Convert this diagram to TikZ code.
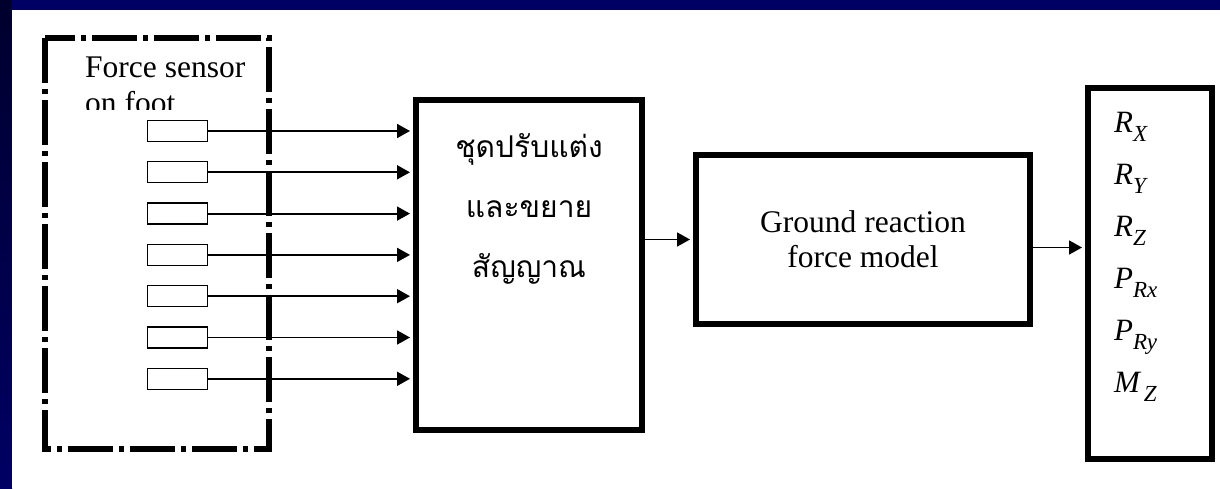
\documentclass[tikz,border=0pt]{standalone}
\usepackage{fontspec}
\setmainfont{Liberation Serif}
\newfontfamily\thaifont[Script=Thai]{Loma}
\usetikzlibrary{positioning,arrows.meta}
\definecolor{slidenavy}{RGB}{0,0,100}
\definecolor{slidedark}{RGB}{0,0,45}
\newcommand{\outsym}[2]{{\itshape #1\raisebox{-9pt}{\fontsize{23}{23}\selectfont #2}}}
\tikzset{
    block/.style={rectangle, draw=black, line width=6pt, fill=white, inner sep=0pt},
    sensor/.style={rectangle, draw=black, line width=1.3pt, minimum width=60pt, minimum height=21pt, inner sep=0pt},
    footbox/.style={draw=black, line width=6pt, dash pattern=on 45pt off 6pt on 5pt off 6pt},
    arr/.style={line width=1.8pt,-{Triangle[length=13pt,width=14pt]}}
    }

\begin{document}
\begin{tikzpicture}[x=1pt,y=1pt]
    \useasboundingbox (0,0) rectangle (1220,488);
    % slide background
    \fill[slidenavy] (0,0) rectangle (1220,488);
    \shade[top color=slidedark, bottom color=slidenavy] (0,0) rectangle (12,488);
    \fill[white] (12,0) rectangle (1220,478);

    % sensors on the foot
    \draw[footbox] (45,450) rectangle (269,39);
    \begin{scope}
        \clip (50,378) rectangle (265,445);
        \node[anchor=north west, align=left, inner sep=0pt, font=\fontsize{31.5}{36}\selectfont] (foottxt) at (85,431) {Force sensor\\on foot};
    \end{scope}

    \node[block, minimum width=226pt, minimum height=330pt] (cond) at (529,223) {};
    \node[below=36pt of cond.north, align=center, inner sep=0pt, font=\thaifont\fontsize{30}{60}\selectfont] (condtxt) {ชุดปรับแต่ง\\และขยาย\\สัญญาณ};

    \foreach \i in {1,...,7} {
        \node[sensor] (s\i) at (177.5,{357-41.3*(\i-1)}) {};
        \draw[arr, shorten >=3pt] (s\i.east) -- (s\i.east -| cond.west);
    }

    \node[block, minimum width=334pt, minimum height=169pt, align=center, font=\fontsize{31.5}{35}\selectfont] (model) at (863,248.5) {Ground reaction\\force model};
    \node[block, minimum width=124pt, minimum height=371pt] (out) at (1150,214.5) {};
    \node[anchor=north west, align=left, inner sep=0pt, font=\fontsize{31}{52}\selectfont] (outtxt) at (1114,376) {\outsym{R}{X}\\\outsym{R}{Y}\\\outsym{R}{Z}\\\outsym{P}{Rx}\\\outsym{P}{Ry}\\\outsym{M}{\,Z}};

    \draw[arr, shorten >=3pt] (cond.east |- model.west) -- (model.west);
    \draw[arr, shorten >=3pt] ([yshift=-8pt]model.east) -- ([yshift=-8pt]model.east -| out.west);
\end{tikzpicture}
\end{document}
